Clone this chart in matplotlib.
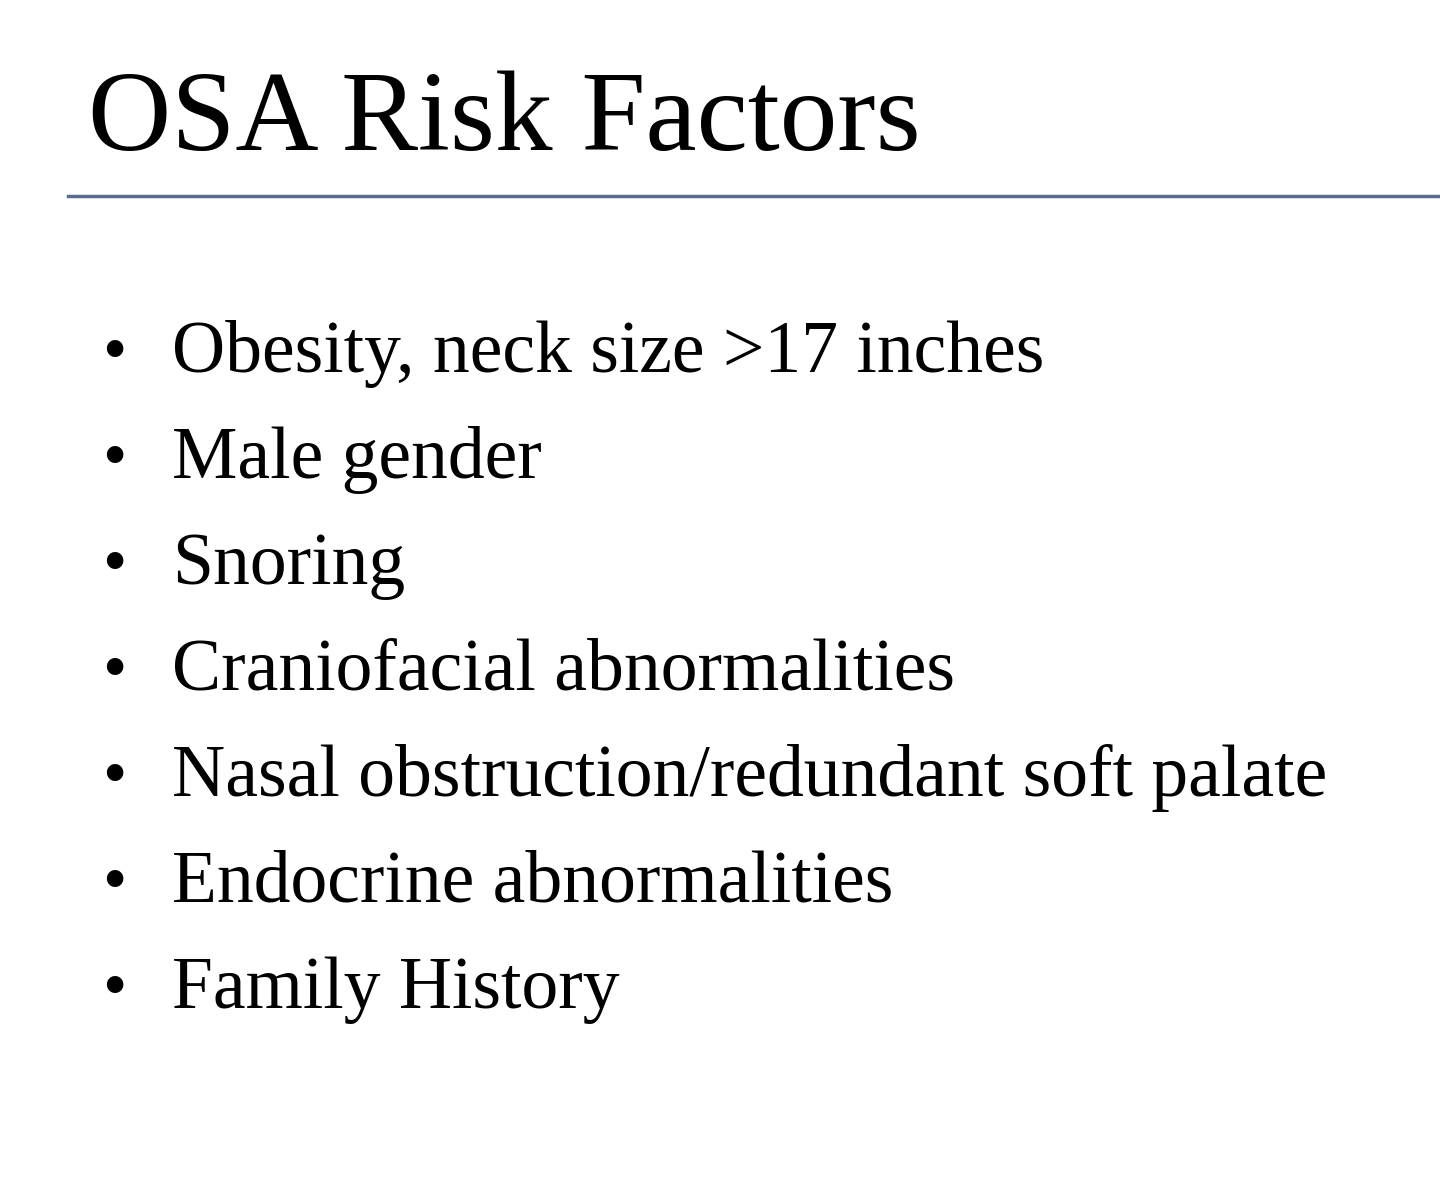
import matplotlib
matplotlib.use("Agg")
import matplotlib.pyplot as plt
from matplotlib.lines import Line2D

title = "OSA Risk Factors"
items = [
    "Obesity, neck size >17 inches",
    "Male gender",
    "Snoring",
    "Craniofacial abnormalities",
    "Nasal obstruction/redundant soft palate",
    "Endocrine abnormalities",
    "Family History",
]

W, H = 1440, 1195
fig = plt.figure(figsize=(W / 100, H / 100), dpi=100)
fig.patch.set_facecolor("white")
font = ["Liberation Serif", "DejaVu Serif"]

fig.text(88 / W, 1 - 150 / H, title, family=font, fontsize=83, va="baseline", ha="left")
fig.add_artist(Line2D([68 / W, 1.0], [1 - 196 / H] * 2, color="#5b6b8c", lw=2.5,
                      transform=fig.transFigure))

for i, it in enumerate(items):
    y = 1 - (372 + i * 106) / H
    fig.text(102 / W, y, "\u2022", family=font, fontsize=50, va="baseline", ha="left")
    fig.text(172 / W, y, it, family=font, fontsize=53, va="baseline", ha="left")

fig.savefig("out.png", dpi=100)
